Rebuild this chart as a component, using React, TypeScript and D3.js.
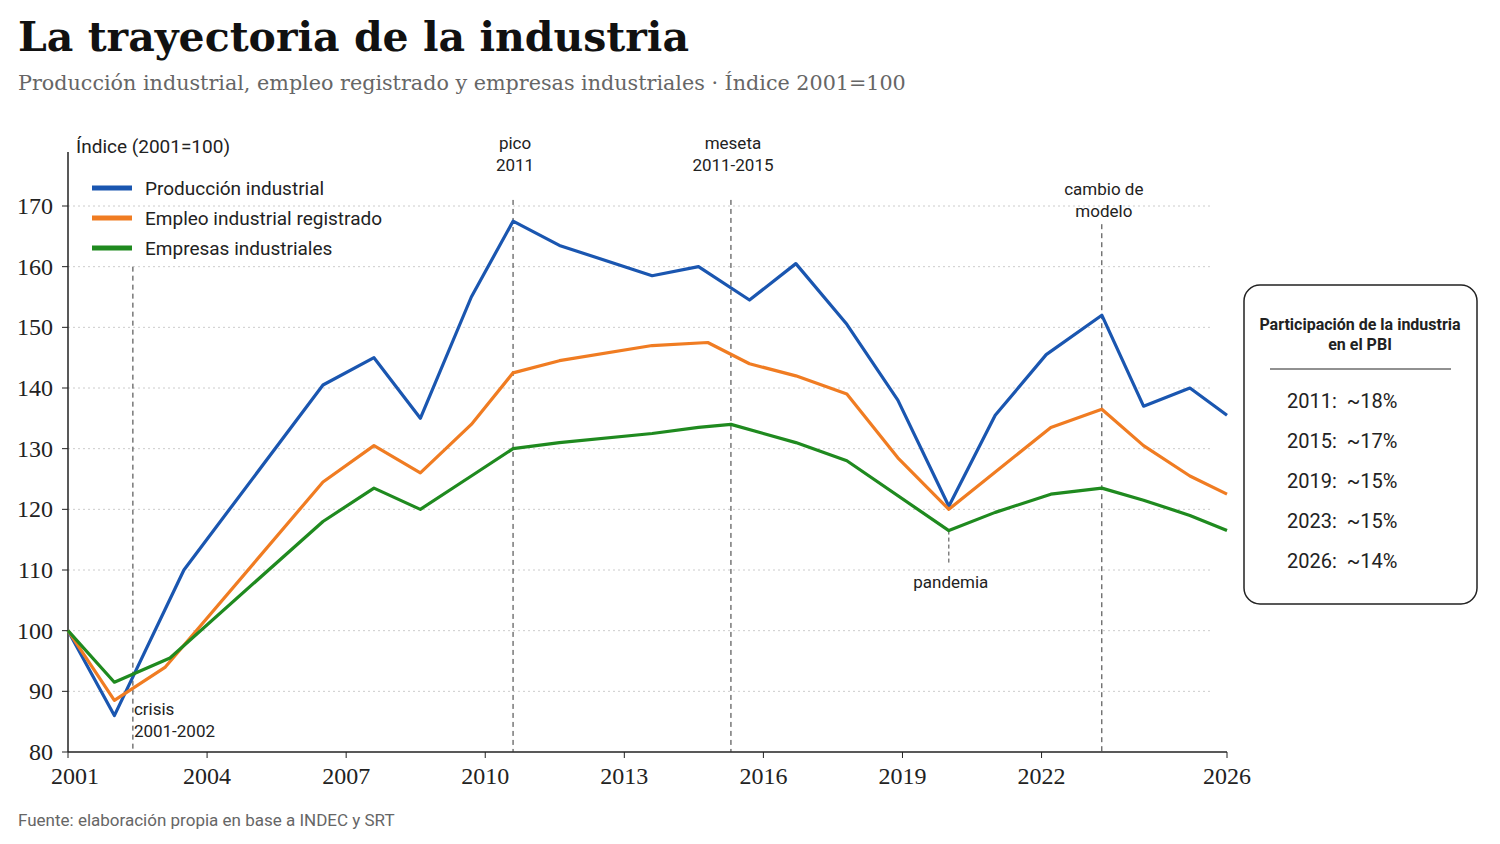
import React from "react";
import * as d3 from "d3";

const years = [2001, 2004, 2007, 2010, 2013, 2016, 2019, 2022, 2026];
const yTicks = [80, 90, 100, 110, 120, 130, 140, 150, 160, 170];

const prodX = [2001, 2002, 2003.5, 2006.5, 2007.6, 2008.6, 2009.7, 2010.6, 2011.6, 2013.6, 2014.6, 2015.7, 2016.7, 2017.8, 2018.9, 2020, 2021, 2022.1, 2023.3, 2024.2, 2025.2, 2026];
const prodY = [100, 86, 110, 140.5, 145, 135, 155, 167.5, 163.5, 158.5, 160, 154.5, 160.5, 150.5, 138, 120.5, 135.5, 145.5, 152, 137, 140, 135.5];
const empX = [2001, 2002, 2003.1, 2006.5, 2007.6, 2008.6, 2009.7, 2010.6, 2011.6, 2013.6, 2014.8, 2015.7, 2016.7, 2017.8, 2018.9, 2020, 2022.2, 2023.3, 2024.2, 2025.2, 2026];
const empY = [100, 88.5, 94, 124.5, 130.5, 126, 134, 142.5, 144.5, 147, 147.5, 144, 142, 139, 128.5, 120, 133.5, 136.5, 130.5, 125.5, 122.5];
const firmX = [2001, 2002, 2003.2, 2006.5, 2007.6, 2008.6, 2009.7, 2010.6, 2011.6, 2013.6, 2014.6, 2015.3, 2016.7, 2017.8, 2020, 2021, 2022.2, 2023.3, 2024.2, 2025.2, 2026];
const firmY = [100, 91.5, 95.5, 118, 123.5, 120, 125.5, 130, 131, 132.5, 133.5, 134, 131, 128, 116.5, 119.5, 122.5, 123.5, 121.5, 119, 116.5];

const series = [
  { name: "Producción industrial", color: "#1a56b0", xs: prodX, ys: prodY },
  { name: "Empleo industrial registrado", color: "#f07c22", xs: empX, ys: empY },
  { name: "Empresas industriales", color: "#1f8a1f", xs: firmX, ys: firmY },
];

const events = [
  { year: 2002.4, label: ["crisis", "2001-2002"], top: 160, labelPos: "below" },
  { year: 2010.6, label: ["pico", "2011"], top: 171, labelPos: "top" },
  { year: 2015.3, label: ["meseta", "2011-2015"], top: 171, labelPos: "top" },
  { year: 2023.3, label: ["cambio de", "modelo"], top: 167, labelPos: "top2" },
];

const shares = ["2011:  ~18%", "2015:  ~17%", "2019:  ~15%", "2023:  ~15%", "2026:  ~14%"];

const sans = "Roboto, 'Noto Sans', sans-serif";
const serif = "'DejaVu Serif', 'Liberation Serif', serif";
const tickSerif = "'Liberation Serif', serif";

export default function App() {
  const x = d3.scaleLinear().domain([2001, 2026]).range([68, 1227]);
  const y = d3.scaleLinear().domain([80, 170]).range([752, 206]);
  const line = d3.line<number>().x((d) => d[0]).y((d) => d[1]);
  return (
    <svg width={1500} height={844} style={{ position: "absolute", left: 0, top: 0, background: "#fff" }}>
      <text x={18} y={51} fontFamily={serif} fontWeight="bold" fontSize={41} fill="#111">La trayectoria de la industria</text>
      <text x={18} y={90} fontFamily={serif} fontSize={20.7} fill="#666">Producción industrial, empleo registrado y empresas industriales · Índice 2001=100</text>
      {yTicks.filter((t) => t > 80).map((t) => (
        <line key={t} x1={68} x2={1210} y1={y(t)} y2={y(t)} stroke="#ccc" strokeDasharray="2,3" />
      ))}
      <line x1={68} x2={68} y1={152} y2={752} stroke="#222" strokeWidth={1.5} />
      <line x1={68} x2={1227} y1={752} y2={752} stroke="#222" strokeWidth={1.5} />
      {yTicks.map((t) => (
        <g key={t}>
          <line x1={62} x2={68} y1={y(t)} y2={y(t)} stroke="#222" />
          <text x={53} y={y(t) + 8} textAnchor="end" fontFamily={tickSerif} fontSize={24} fill="#222">{t}</text>
        </g>
      ))}
      {years.map((t) => (
        <g key={t}>
          <line x1={x(t)} x2={x(t)} y1={752} y2={758} stroke="#222" />
          <text x={x(t) + (t === 2001 ? 7 : 0)} y={784} textAnchor="middle" fontFamily={tickSerif} fontSize={24} fill="#222">{t}</text>
        </g>
      ))}
      <text x={76} y={153} fontFamily={sans} fontSize={19} fill="#222">Índice (2001=100)</text>
      {events.map((e, i) => (
        <g key={i}>
          <line x1={x(e.year)} x2={x(e.year)} y1={y(e.top)} y2={752} stroke="#333" strokeDasharray="5,4" />
          {e.labelPos === "below" ? (
            e.label.map((l, j) => (
              <text key={j} x={x(e.year) + 1} y={715 + j * 22} fontFamily={sans} fontSize={17} fill="#222">{l}</text>
            ))
          ) : (
            e.label.map((l, j) => (
              <text key={j} x={x(e.year) + 2} y={(e.labelPos === "top2" ? 195 : 149) + j * 22} textAnchor="middle" fontFamily={sans} fontSize={17} fill="#222">{l}</text>
            ))
          )}
        </g>
      ))}
      <line x1={x(2020)} x2={x(2020)} y1={y(116.5)} y2={565} stroke="#444" strokeDasharray="4,3" />
      <text x={x(2020) + 2} y={588} textAnchor="middle" fontFamily={sans} fontSize={17} fill="#222">pandemia</text>
      {series.map((s) => (
        <path key={s.name} d={line(s.xs.map((v, i) => [x(v), y(s.ys[i])]) as any) || ""} fill="none" stroke={s.color} strokeWidth={3.2} strokeLinejoin="round" />
      ))}
      {series.map((s, i) => (
        <g key={s.name}>
          <line x1={92} x2={132} y1={188 + i * 30} y2={188 + i * 30} stroke={s.color} strokeWidth={5} />
          <text x={145} y={195 + i * 30} fontFamily={sans} fontSize={19} fill="#222">{s.name}</text>
        </g>
      ))}
      <rect x={1244} y={285} width={233} height={319} rx={16} fill="#fff" stroke="#222" strokeWidth={1.5} />
      <text x={1360} y={330} textAnchor="middle" fontFamily={sans} fontWeight="bold" fontSize={16} fill="#222">Participación de la industria</text>
      <text x={1360} y={350} textAnchor="middle" fontFamily={sans} fontWeight="bold" fontSize={16} fill="#222">en el PBI</text>
      <line x1={1270} x2={1451} y1={369} y2={369} stroke="#222" />
      {shares.map((s) => s).map((s, i) => (
        <text key={s} x={1287} y={408 + i * 40} fontFamily={sans} fontSize={20} fill="#222" style={{ whiteSpace: "pre" }}>{s}</text>
      ))}
      <text x={18} y={826} fontFamily={sans} fontSize={17} fill="#666">Fuente: elaboración propia en base a INDEC y SRT</text>
    </svg>
  );
}
